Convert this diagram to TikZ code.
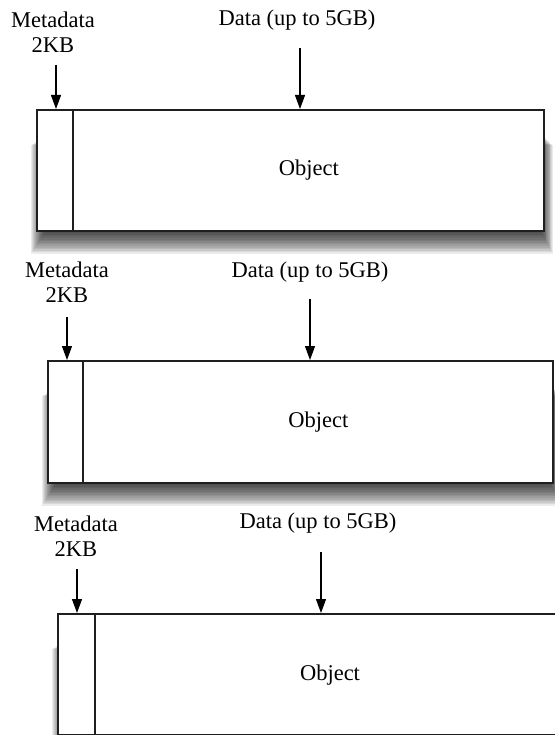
\documentclass[tikz,border=0pt]{standalone}
\usepackage{fontspec}
\setmainfont{Liberation Serif}
\usetikzlibrary{arrows.meta,calc}
\pgfdeclarelayer{background}
\pgfsetlayers{background,main}
\tikzset{
  lbl/.style={inner sep=0pt, align=center, font=\fontsize{22.5}{25}\selectfont},
  objbox/.style={draw=black!88, line width=1.6pt, fill=white, inner sep=0pt, anchor=north west},
  shadowstep/.style={fill=black, opacity=0.08},
  divider/.style={draw=black!88, line width=1.6pt},
  arr/.style={line width=1.2pt, -{Triangle[length=14pt,width=10pt]}}
}
\newcommand{\objshadow}[1]{%
  \begin{pgfonlayer}{background}
  \foreach \i in {1,...,14}{%
    \path[shadowstep] ($(#1.north west)+(9-\i*1.0, 25+\i*0.8)$) rectangle ($(#1.south east)+(\i*0.8-3, \i*1.6)$);
  }
  \end{pgfonlayer}}
\begin{document}
\begin{tikzpicture}[x=1pt,y=-1pt]
\useasboundingbox (0,0) rectangle (554,735);
% ---------- diagram 1
\node[lbl] (m1) at (53,32.5) {Metadata\\2KB};
\node[lbl] (t1) at (297,20) {Data (up to 5GB)};
\node[objbox, minimum width=507pt, minimum height=121pt] (o1) at (36,109) {};
\objshadow{o1}
\coordinate (d1) at (73,109);
\draw[divider] (d1) -- (d1 |- o1.south);
\node[lbl] (ob1) at ($(d1 |- o1.center)!0.5!(o1.east)$) {Object};
\coordinate (ma1) at (56,65); \coordinate (mb1) at (56,109);
\coordinate (da1) at (300,48); \coordinate (db1) at (300,109);
\draw[arr] (ma1) -- (mb1);
\draw[arr] (da1) -- (db1);
% ---------- diagram 2
\node[lbl] (m2) at (67,282.5) {Metadata\\2KB};
\node[lbl] (t2) at (310,272) {Data (up to 5GB)};
\node[objbox, minimum width=505pt, minimum height=122pt] (o2) at (47,360) {};
\objshadow{o2}
\coordinate (d2) at (83,360);
\draw[divider] (d2) -- (d2 |- o2.south);
\node[lbl] (ob2) at ($(d2 |- o2.center)!0.5!(o2.east)$) {Object};
\coordinate (ma2) at (67,317); \coordinate (mb2) at (67,360);
\coordinate (da2) at (310,299); \coordinate (db2) at (310,360);
\draw[arr] (ma2) -- (mb2);
\draw[arr] (da2) -- (db2);
% ---------- diagram 3
\node[lbl] (m3) at (76,536) {Metadata\\2KB};
\node[lbl] (t3) at (318,523) {Data (up to 5GB)};
\node[objbox, minimum width=507pt, minimum height=121pt] (o3) at (57,613) {};
\objshadow{o3}
\coordinate (d3) at (95,613);
\draw[divider] (d3) -- (d3 |- o3.south);
\node[lbl] (ob3) at (330,675) {Object};
\coordinate (ma3) at (77,569); \coordinate (mb3) at (77,613);
\coordinate (da3) at (321,552); \coordinate (db3) at (321,613);
\draw[arr] (ma3) -- (mb3);
\draw[arr] (da3) -- (db3);
\end{tikzpicture}
\end{document}
